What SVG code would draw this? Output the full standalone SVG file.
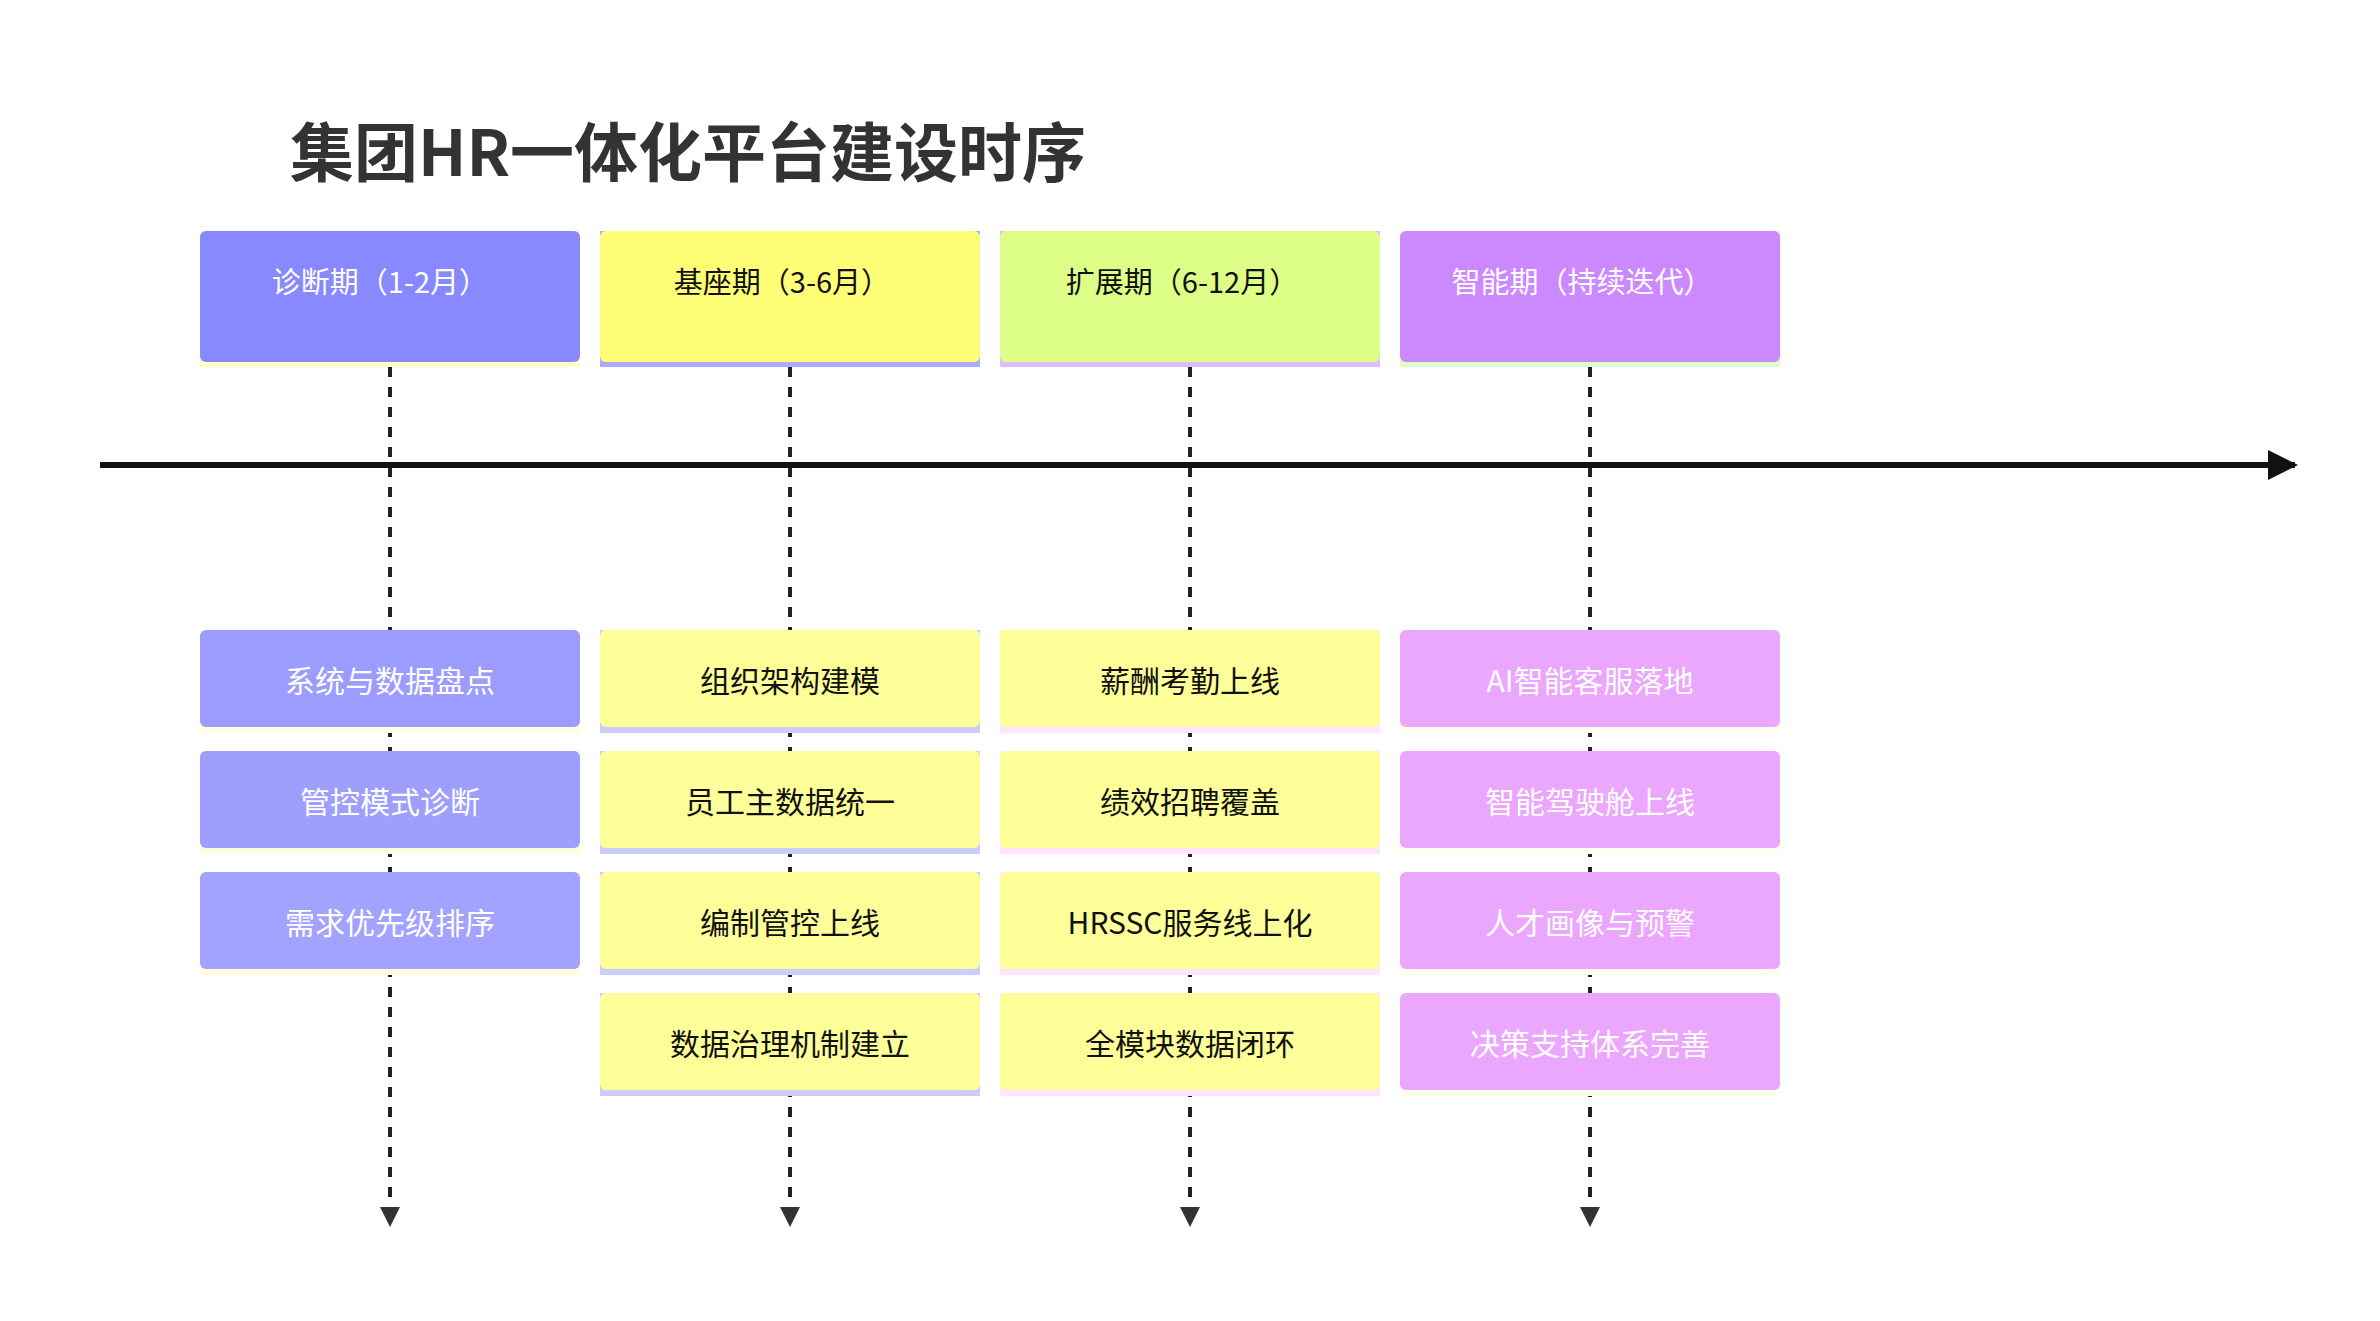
<svg xmlns="http://www.w3.org/2000/svg" width="2380" height="1321" viewBox="0 0 2380 1321">
<style>
text{font-family:"Noto Sans CJK SC","Noto Sans",sans-serif;text-anchor:middle;dominant-baseline:central}
.h{font-size:29px}
.i{font-size:30px}
.w{fill:#ffffff}
.k{fill:#111111}
.d{stroke:#222;stroke-width:4;stroke-dasharray:10 10;fill:none}
</style>
<defs>
<marker id="ah" viewBox="0 0 10 10" refX="9" refY="5" markerWidth="5" markerHeight="5" orient="auto" markerUnits="strokeWidth"><path d="M0,0L10,5L0,10z" fill="#333"/></marker>
<marker id="am" viewBox="0 0 10 10" refX="9" refY="5" markerWidth="8" markerHeight="5" orient="auto" markerUnits="strokeWidth"><path d="M0,0L10,5L0,10z" fill="#111"/></marker>
</defs>
<rect width="2380" height="1321" fill="#fff"/>
<text x="290" y="148" style="font-size:64px;font-weight:bold;text-anchor:start;fill:#333">集团HR一体化平台建设时序</text>
<g id="connectors">
<line class="d" x1="390" y1="367" x2="390" y2="1225" marker-end="url(#ah)"/>
<line class="d" x1="790" y1="367" x2="790" y2="1225" marker-end="url(#ah)"/>
<line class="d" x1="1190" y1="367" x2="1190" y2="1225" marker-end="url(#ah)"/>
<line class="d" x1="1590" y1="367" x2="1590" y2="1225" marker-end="url(#ah)"/>
<line x1="100" y1="465" x2="2295" y2="465" stroke="#111" stroke-width="6" marker-end="url(#am)"/>
</g>
<g id="h1"><rect x="200" y="231" width="380" height="136" fill="#ffffcc"/><rect x="200" y="231" width="380" height="131" rx="6" fill="#8888ff"/><text class="h w" x="380" y="280">诊断期（1-2月）</text></g>
<g id="h2"><rect x="600" y="231" width="380" height="136" fill="#aaaaff"/><rect x="600" y="231" width="380" height="131" rx="6" fill="#ffff77"/><text class="h k" x="782" y="280">基座期（3-6月）</text></g>
<g id="h3"><rect x="1000" y="231" width="380" height="136" fill="#ddbbff"/><rect x="1000" y="231" width="380" height="131" rx="6" fill="#ddff88"/><text class="h k" x="1182" y="280">扩展期（6-12月）</text></g>
<g id="h4"><rect x="1400" y="231" width="380" height="136" fill="#ddffcc"/><rect x="1400" y="231" width="380" height="131" rx="6" fill="#cc88ff"/><text class="h w" x="1582" y="280">智能期（持续迭代）</text></g>

<g id="a1"><rect x="200" y="630" width="380" height="103" fill="#ffffdd"/><rect x="200" y="630" width="380" height="97" rx="6" fill="#9c9cff"/><text class="i w" x="390" y="679">系统与数据盘点</text></g>
<g id="a2"><rect x="200" y="751" width="380" height="103" fill="#ffffdd"/><rect x="200" y="751" width="380" height="97" rx="6" fill="#9e9eff"/><text class="i w" x="390" y="800">管控模式诊断</text></g>
<g id="a3"><rect x="200" y="872" width="380" height="103" fill="#ffffdd"/><rect x="200" y="872" width="380" height="97" rx="6" fill="#a2a2ff"/><text class="i w" x="390" y="921">需求优先级排序</text></g>

<g id="b1"><rect x="600" y="630" width="380" height="103" fill="#ccccff"/><rect x="600" y="630" width="380" height="97" rx="6" fill="#ffff99"/><text class="i k" x="790" y="679">组织架构建模</text></g>
<g id="b2"><rect x="600" y="751" width="380" height="103" fill="#ccccff"/><rect x="600" y="751" width="380" height="97" rx="6" fill="#ffff99"/><text class="i k" x="790" y="800">员工主数据统一</text></g>
<g id="b3"><rect x="600" y="872" width="380" height="103" fill="#ccccff"/><rect x="600" y="872" width="380" height="97" rx="6" fill="#ffff99"/><text class="i k" x="790" y="921">编制管控上线</text></g>
<g id="b4"><rect x="600" y="993" width="380" height="103" fill="#ccccff"/><rect x="600" y="993" width="380" height="97" rx="6" fill="#ffff99"/><text class="i k" x="790" y="1042">数据治理机制建立</text></g>

<g id="c1"><rect x="1000" y="630" width="380" height="103" fill="#ffe4ff"/><rect x="1000" y="630" width="380" height="97" rx="6" fill="#ffff99"/><text class="i k" x="1190" y="679">薪酬考勤上线</text></g>
<g id="c2"><rect x="1000" y="751" width="380" height="103" fill="#ffe4ff"/><rect x="1000" y="751" width="380" height="97" rx="6" fill="#ffff99"/><text class="i k" x="1190" y="800">绩效招聘覆盖</text></g>
<g id="c3"><rect x="1000" y="872" width="380" height="103" fill="#ffe4ff"/><rect x="1000" y="872" width="380" height="97" rx="6" fill="#ffff99"/><text class="i k" x="1190" y="921">HRSSC服务线上化</text></g>
<g id="c4"><rect x="1000" y="993" width="380" height="103" fill="#ffe4ff"/><rect x="1000" y="993" width="380" height="97" rx="6" fill="#ffff99"/><text class="i k" x="1190" y="1042">全模块数据闭环</text></g>

<g id="d1"><rect x="1400" y="630" width="380" height="103" fill="#ffffee"/><rect x="1400" y="630" width="380" height="97" rx="6" fill="#eba6fd"/><text class="i w" x="1590" y="679">AI智能客服落地</text></g>
<g id="d2"><rect x="1400" y="751" width="380" height="103" fill="#ffffee"/><rect x="1400" y="751" width="380" height="97" rx="6" fill="#eba6fd"/><text class="i w" x="1590" y="800">智能驾驶舱上线</text></g>
<g id="d3"><rect x="1400" y="872" width="380" height="103" fill="#ffffee"/><rect x="1400" y="872" width="380" height="97" rx="6" fill="#eba6fd"/><text class="i w" x="1590" y="921">人才画像与预警</text></g>
<g id="d4"><rect x="1400" y="993" width="380" height="103" fill="#ffffee"/><rect x="1400" y="993" width="380" height="97" rx="6" fill="#eba6fd"/><text class="i w" x="1590" y="1042">决策支持体系完善</text></g>
</svg>
